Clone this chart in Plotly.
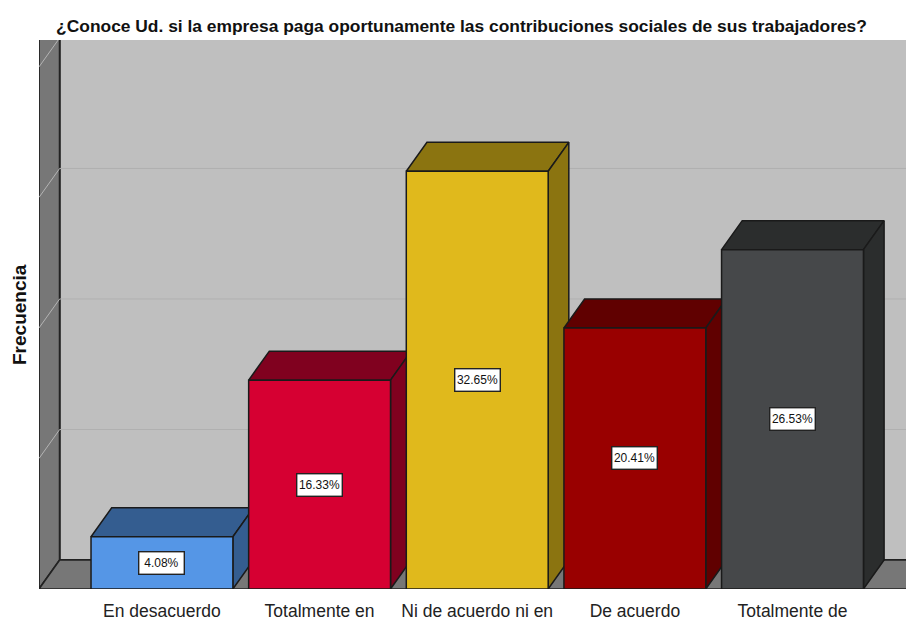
import plotly.graph_objects as go

title_text = "¿Conoce Ud. si la empresa paga oportunamente las contribuciones sociales de sus trabajadores?"
y_title = "Frecuencia"
categories = ["En desacuerdo", "Totalmente en", "Ni de acuerdo ni en", "De acuerdo", "Totalmente de"]
counts = [2, 8, 16, 10, 13]
percents = ["4.08%", "16.33%", "32.65%", "20.41%", "26.53%"]
front_colors = ["#5596e6", "#d60032", "#e0b91c", "#990000", "#46484a"]
depth_colors = ["#345d90", "#80011f", "#8b7410", "#600000", "#2b2d2d"]
grid_counts = [5, 10, 15, 20]

X_RANGE = [-0.78, 4.72]
Y_RANGE = [0, 21.03]
BAR_W = 0.9
DX = 0.131
DY = 1.11
EDGE = "#1a1a1a"

fig = go.Figure()


def poly(xs, ys, fill, line=EDGE, width=1.5):
    fig.add_trace(go.Scatter(
        x=xs, y=ys, mode="lines", fill="toself", fillcolor=fill,
        line=dict(color=line, width=width), hoverinfo="skip", showlegend=False,
        xaxis="x", yaxis="y",
    ))


L, R = X_RANGE
T = Y_RANGE[1] + 1
# back wall, left wall, floor
poly([L + DX, R + 1, R + 1, L + DX, L + DX], [DY, DY, T, T, DY], "#bfbfbf", "#222222", 1.8)
poly([L, L + DX, L + DX, L, L], [0, DY, T, T, 0], "#777777", "#222222", 1.8)
poly([L, L + DX, R + 1, R + 1, L], [0, DY, DY, 0, 0], "#777777", "#222222", 1.6)

# grid lines on the back wall and the left wall
for g in grid_counts:
    fig.add_trace(go.Scatter(x=[L + DX, R + 1], y=[g + DY, g + DY], mode="lines",
                             line=dict(color="#b0b0b0", width=1), hoverinfo="skip", showlegend=False))
    fig.add_trace(go.Scatter(x=[L, L + DX], y=[g, g + DY], mode="lines",
                             line=dict(color="#b4b4b4", width=1), hoverinfo="skip", showlegend=False))

# depth faces of each bar, left to right
for i, v in enumerate(counts):
    x0, x1 = i - BAR_W / 2, i + BAR_W / 2
    poly([x0, x0 + DX, x1 + DX, x1, x0], [v, v + DY, v + DY, v, v], depth_colors[i])
    poly([x1, x1 + DX, x1 + DX, x1, x1], [0, DY, v + DY, v, 0], depth_colors[i])

# front faces on an overlaid axis pair, so they cover the depth faces of the bar to their left
fig.add_trace(go.Bar(
    x=categories, y=counts, width=BAR_W, xaxis="x2", yaxis="y2",
    marker=dict(color=front_colors, line=dict(color=EDGE, width=1.5)),
    hoverinfo="skip", showlegend=False,
))

annotations = [
    dict(x=i, y=v / 2, xref="x", yref="y", text=p, showarrow=False,
         bgcolor="white", bordercolor="#222222", borderwidth=1.4, borderpad=1,
         width=42, height=19, align="center",
         font=dict(family="Liberation Sans", size=12, color="#111111"))
    for i, (v, p) in enumerate(zip(counts, percents))
]
annotations.append(dict(
    x=-0.0225, y=0.5, xref="paper", yref="paper", text=f"<b>{y_title}</b>", showarrow=False,
    textangle=-90, xanchor="center", yanchor="middle",
    font=dict(family="Liberation Sans", size=19, color="#111111"),
))

fig.update_layout(
    width=906, height=619,
    margin=dict(l=39, r=0, t=40, b=30, pad=0),
    paper_bgcolor="white", plot_bgcolor="#bfbfbf",
    showlegend=False, bargap=0.1,
    title=dict(text=f"<b>{title_text}</b>", x=461.5 / 906, xanchor="center", xref="container",
               y=1 - 26 / 619, yanchor="middle",
               font=dict(family="Liberation Sans", size=17.4, color="#111111")),
    xaxis=dict(range=X_RANGE, visible=False, fixedrange=True, domain=[0, 1]),
    yaxis=dict(range=Y_RANGE, visible=False, fixedrange=True, domain=[0, 1]),
    xaxis2=dict(type="category", categoryorder="array", categoryarray=categories, range=X_RANGE,
                overlaying="x", anchor="y2", side="bottom", showgrid=False, zeroline=False,
                showline=False, ticks="", tickangle=0, automargin=False, ticklabelstandoff=9,
                tickfont=dict(family="Liberation Sans", size=17.5, color="#222222")),
    yaxis2=dict(range=Y_RANGE, overlaying="y", anchor="x2", visible=False, showgrid=False, zeroline=False),
    annotations=annotations,
)

fig.write_html("out.html", config={"displayModeBar": False},
               post_script="document.body.style.margin='0';document.body.style.overflow='hidden';")
